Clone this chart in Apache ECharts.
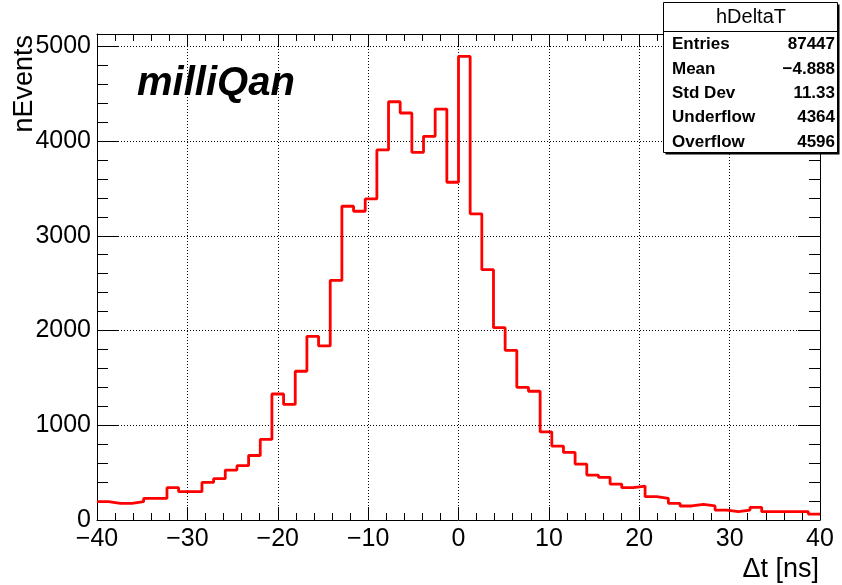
<!DOCTYPE html>
<html><head><meta charset="utf-8">
<script src="https://cdn.jsdelivr.net/npm/echarts@6/dist/echarts.min.js"></script>
<style>html,body{margin:0;padding:0;background:#fff}#c{width:842px;height:585px}</style>
</head><body><div id="c"></div>
<script>
// ---- data ----
const xMin = -40, xMax = 40, nBins = 62;
const counts = [193,176,176,193,228,228,341,299,299,397,436,527,573,681,850,
  1330,1220,1570,1939,1837,2529,3312,3259,3389,3906,4415,4296,3881,4050,4338,3565,4893,
  3232,2642,2030,1791,1400,1359,931,780,713,590,474,450,379,341,358,246,228,176,148,165,148,
  105,88,105,134,88,88,88,88,63];
const histName = 'hDeltaT';
const statsLabels = ['Entries','Mean','Std Dev','Underflow','Overflow'];
const statsValues = ['87447','\u22124.888','11.33','4364','4596'];
const xTitle = '\u0394t [ns]';
const yTitle = 'nEvents';
const tagText = 'milliQan';

// ---- build ----
const FONT = 'Liberation Sans, Arial, Helvetica, sans-serif';
const w = (xMax - xMin) / nBins;
const stepData = counts.map((c, k) => [xMin + k * w, c]);
stepData.push([xMax, counts[counts.length - 1]]);
const minus = v => String(v).replace('-', '\u2212');

const black = {color:'#000', width:1};
function xAx(pos, labels) {
  return {type:'value', min:xMin, max:xMax, interval:10, position:pos,
    axisLine:{show:true, onZero:false, lineStyle:black},
    axisTick:{show:true, inside:true, length:13, lineStyle:black},
    minorTick:{show:true, splitNumber:5, length:7, lineStyle:black},
    splitLine:{show:labels, lineStyle:{color:'#000', width:1, type:[1,2]}},
    axisLabel:{show:labels, color:'#000', fontSize:25, fontFamily:FONT, margin:7, formatter:minus}};
}
function yAx(pos, interval, len, main) {
  return {type:'value', min:0, max:5130, interval:interval, position:pos,
    axisLine:{show:main, onZero:false, lineStyle:black},
    axisTick:{show:true, inside:true, length:len, lineStyle:black},
    splitLine:{show:main && pos==='left' && interval===1000, lineStyle:{color:'#000', width:1, type:[1,2]}},
    axisLabel:{show:main && pos==='left', color:'#000', fontSize:25, fontFamily:FONT, margin:6, showMaxLabel:false,
      formatter: v => String(v)}};
}

const graphic = [
  {type:'rect', z:100, shape:{x:665.5, y:4.5, width:174, height:150}, style:{fill:'#000'}},
  {type:'rect', z:101, shape:{x:663.5, y:2.5, width:174, height:150}, style:{fill:'#fff', stroke:'#000', lineWidth:1}},
  {type:'line', z:102, shape:{x1:663.5, y1:31.5, x2:837.5, y2:31.5}, style:{stroke:'#000', lineWidth:1}},
  {type:'text', z:102, x:751, y:17, style:{text:histName, font:'20px '+FONT, fill:'#000', align:'center', verticalAlign:'middle', textAlign:'center', textVerticalAlign:'middle'}},
  {type:'text', z:50, x:137, y:84, style:{text:tagText, font:'italic bold 40px '+FONT, fill:'#000', align:'left', verticalAlign:'middle', textAlign:'left', textVerticalAlign:'middle'}},
  {type:'text', z:50, x:25, y:35, rotation:Math.PI/2, style:{text:yTitle, font:'27px '+FONT, fill:'#000', align:'right', verticalAlign:'middle', textAlign:'right', textVerticalAlign:'middle'}},
  {type:'text', z:50, x:819, y:570, style:{text:xTitle, font:'27px '+FONT, fill:'#000', align:'right', verticalAlign:'middle', textAlign:'right', textVerticalAlign:'middle'}}
];
const rowY = [44, 69, 93, 117, 142];
statsLabels.forEach((t, i) => {
  graphic.push({type:'text', z:102, x:672, y:rowY[i], style:{text:t, font:'bold 17px '+FONT, fill:'#000', align:'left', verticalAlign:'middle', textAlign:'left', textVerticalAlign:'middle'}});
  graphic.push({type:'text', z:102, x:835, y:rowY[i], style:{text:statsValues[i], font:'bold 17px '+FONT, fill:'#000', align:'right', verticalAlign:'middle', textAlign:'right', textVerticalAlign:'middle'}});
});

const chart = echarts.init(document.getElementById('c'), null, {renderer:'canvas'});
chart.setOption({
  animation:false,
  backgroundColor:'#fff',
  grid:{left:97, right:22, top:34, bottom:65, containLabel:false},
  xAxis:[xAx('bottom', true), xAx('top', false)],
  yAxis:[yAx('left',1000,22,true), yAx('left',200,11,false), yAx('right',1000,22,true), yAx('right',200,11,false)],
  graphic: graphic,
  series:[{type:'line', step:'end', xAxisIndex:0, yAxisIndex:0, data:stepData, symbol:'none',
    lineStyle:{color:'#ff0000', width:2.8}, z:5}]
});
</script></body></html>
